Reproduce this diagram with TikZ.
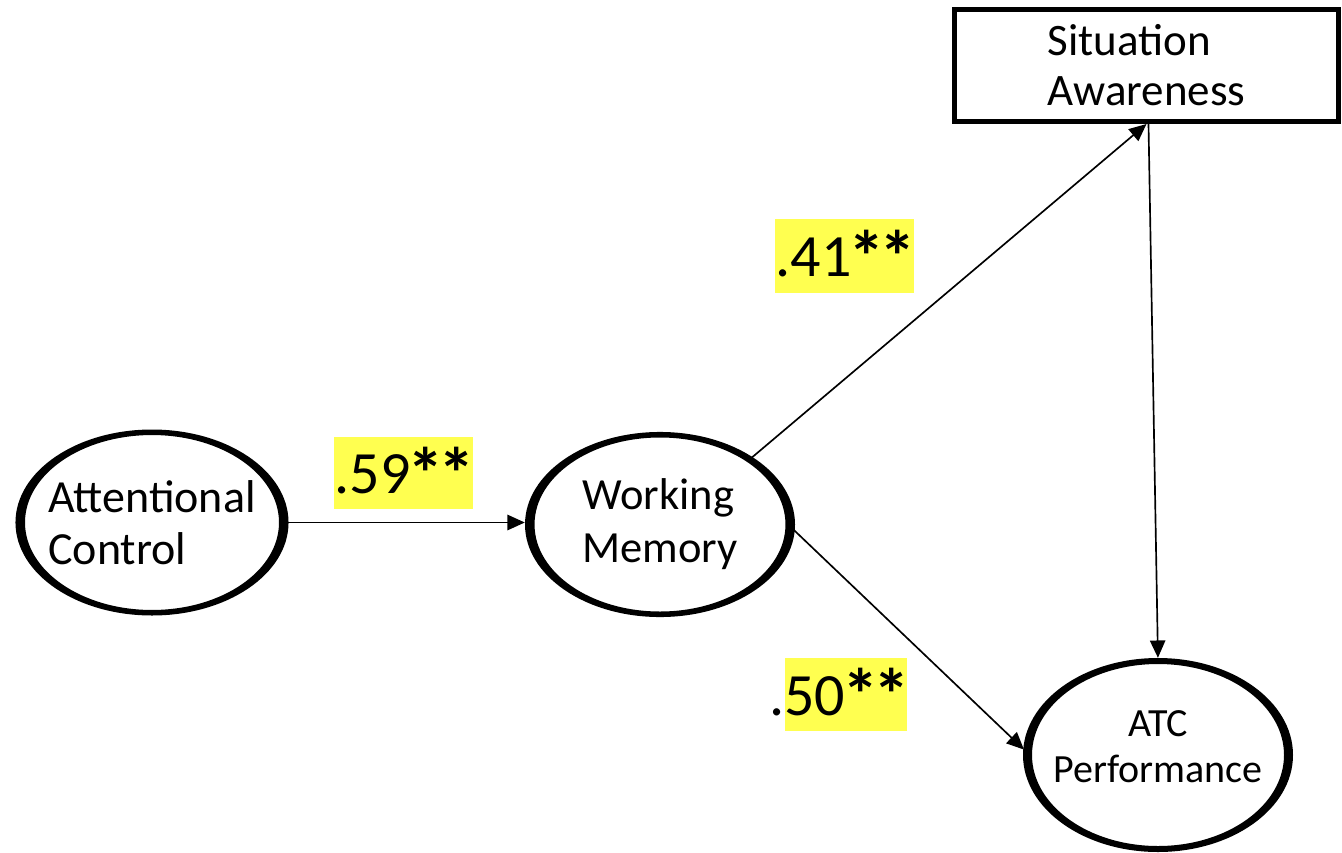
\documentclass[tikz,border=0pt]{standalone}
\usepackage{fontspec}
\setmainfont{Carlito}
\usetikzlibrary{shapes.geometric,arrows.meta}
\definecolor{hlyellow}{RGB}{255,255,80}
% significance stars, a little larger than the text asterisk
\newcommand{\onestar}{\kern-0.045em\raisebox{-0.09em}{\scalebox{1.22}{\textbf{*}}}\kern-0.045em}
\newcommand{\sigmark}{\onestar\onestar}
\begin{document}
\begin{tikzpicture}[x=0.75pt,y=-0.75pt,
  construct/.style={ellipse, inner sep=0pt},
  ovaltext/.style={align=left},
  link/.style={line width=1.25pt, -{Triangle[length=13pt,width=11.5pt]}},
  coef/.style={fill=hlyellow, inner sep=0pt, font=\fontsize{45}{50}\selectfont},
]
\useasboundingbox (0,0) rectangle (1342,853);

% constructs
\node[construct, minimum width=197.6pt, minimum height=135.4pt,
  label={[ovaltext, font=\fontsize{34.5}{39}\selectfont]center:Attentional\\Control}]
  (ac) at (152,522.5) {};
\node[construct, minimum width=195.4pt, minimum height=134.6pt,
  label={[ovaltext, font=\fontsize{33.4}{39.75}\selectfont]center:Working\\Memory}]
  (wm) at (660,524.5) {};
\node[construct, minimum width=195.75pt, minimum height=141pt,
  label={[align=center, font=\fontsize{30}{34.5}\selectfont, yshift=6pt]center:ATC\\Performance}]
  (atc) at (1158,755) {};
\node[draw, line width=3.75pt, minimum width=288pt, minimum height=84pt, inner sep=0pt,
  align=left, font=\fontsize{33.75}{37.5}\selectfont]
  (sa) at (1146.5,65.5) {Situation\\Awareness};

% path coefficients
\node[coef, minimum width=102.75pt, minimum height=54pt] (c59) at (403.5,473) {.59\sigmark};
\node[coef, minimum width=102.75pt, minimum height=55.5pt] (c41) at (844.5,256) {.41\sigmark};
\node[coef, minimum width=91.5pt, minimum height=54.75pt] (c50) at (846,694.5) {\llap{.}50\sigmark};

% paths
\draw[link, shorten >=3.5pt] (ac.east) -- (ac.east -| wm.west);
\draw[link] (wm.36) -- (sa.south);
\draw[link, shorten >=2.2pt] ([xshift=1.5pt]sa.south) -- (atc.north);
\draw[link, shorten >=3.4pt] (wm.-1) -- (atc.179);

% oval outlines, heavier at the sides
\fill[even odd rule] (ac.center) ellipse [x radius=102.4pt, y radius=69.75pt]
  (ac.center) ellipse [x radius=95.25pt, y radius=65.6pt];
\fill[even odd rule] (wm.center) ellipse [x radius=101.25pt, y radius=69.4pt]
  (wm.center) ellipse [x radius=94.1pt, y radius=65.25pt];
\fill[even odd rule] (atc.center) ellipse [x radius=101.25pt, y radius=72.75pt]
  (atc.center) ellipse [x radius=94.5pt, y radius=68.25pt];
\end{tikzpicture}
\end{document}
